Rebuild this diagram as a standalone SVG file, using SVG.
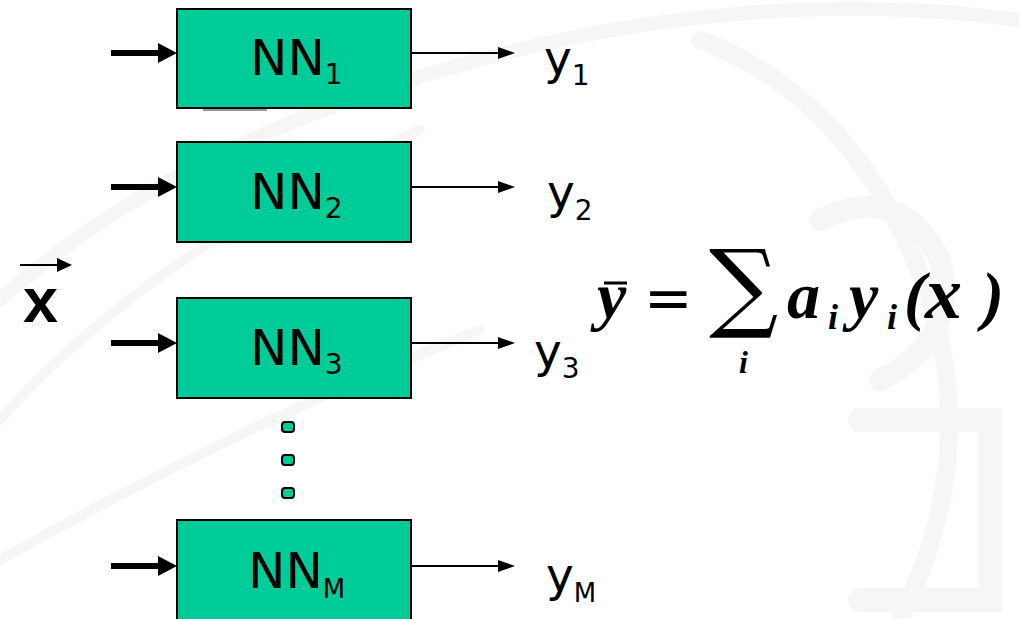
<svg xmlns="http://www.w3.org/2000/svg" width="1019" height="619" viewBox="0 0 1019 619">
<defs>
<style>
.box{fill:#00CC99;stroke:#000;stroke-width:2}
.in{stroke:#000;stroke-width:6;fill:none}
.out{stroke:#000;stroke-width:2;fill:none}
.lbl{font-family:"DejaVu Sans",sans-serif;font-size:50px;fill:#000}
.ylbl{font-family:"DejaVu Sans",sans-serif;font-size:47px;fill:#000}
.sub{font-size:28px}
.subm{font-size:26px}
.eq{font-family:"Liberation Serif","DejaVu Serif",serif;font-weight:bold;font-style:italic;fill:#000}
.wm{fill:none;stroke:#f8f6f4;stroke-linecap:round}
.dot{fill:#00CC99;stroke:#000;stroke-width:2}
</style>
</defs>
<rect width="1019" height="619" fill="#fff"/>
<g id="watermark">
<path class="wm" stroke-width="14" d="M0 300 Q 200 120 560 40 Q 800 -10 1019 20"/>
<path class="wm" stroke-width="10" d="M0 420 Q 150 250 420 130"/>
<path class="wm" stroke-width="18" d="M700 40 Q 860 100 930 300 Q 980 460 900 619"/>
<path class="wm" stroke-width="22" d="M820 220 Q 900 180 940 260 Q 960 340 880 380"/>
<path class="wm" stroke-width="24" d="M860 420 L 990 420 L 990 600 L 860 600"/>
<path class="wm" stroke-width="10" d="M0 560 Q 250 420 480 330"/>
</g>
<g id="connectors">
<g id="inputs" fill="#000">
<path class="in" d="M111 53 H160"/><polygon points="158,43 177,53 158,63"/>
<path class="in" d="M111 187 H160"/><polygon points="158,177 177,187 158,197"/>
<path class="in" d="M111 343 H160"/><polygon points="158,333 177,343 158,353"/>
<path class="in" d="M111 566 H160"/><polygon points="158,556 177,566 158,576"/>
</g>
<g id="outputs" fill="#000">
<path class="out" d="M411 53 H500"/><polygon points="498,47 515,53 498,59"/>
<path class="out" d="M411 187 H500"/><polygon points="498,181 515,187 498,193"/>
<path class="out" d="M411 343 H500"/><polygon points="498,337 515,343 498,349"/>
<path class="out" d="M411 566 H500"/><polygon points="498,560 515,566 498,572"/>
</g>
<g id="x-vector-arrow" fill="#000">
<path d="M20 265 H60" stroke="#000" stroke-width="2"/><polygon points="57,258 72,265 57,272"/>
</g>
</g>
<g id="nn1">
<rect class="box" x="177" y="9" width="234" height="99"/>
<line x1="203" y1="110" x2="267" y2="110" stroke="#999" stroke-width="2"/>
<text class="lbl" x="250" y="75">NN<tspan class="sub" dy="9">1</tspan></text>
</g>
<g id="nn2">
<rect class="box" x="177" y="142" width="234" height="100"/>
<text class="lbl" x="250" y="209">NN<tspan class="sub" dy="9">2</tspan></text>
</g>
<g id="nn3">
<rect class="box" x="177" y="298" width="234" height="100"/>
<text class="lbl" x="250" y="365">NN<tspan class="sub" dy="9">3</tspan></text>
</g>
<g id="dots">
<rect class="dot" x="282" y="422" width="12" height="10" rx="3"/>
<rect class="dot" x="282" y="455" width="12" height="10" rx="3"/>
<rect class="dot" x="282" y="488" width="12" height="10" rx="3"/>
</g>
<g id="nnM">
<rect class="box" x="177" y="520" width="234" height="110"/>
<text class="lbl" x="248" y="588">NN<tspan class="subm" dy="10">M</tspan></text>
</g>
<g id="outputs-labels">
<text class="ylbl" x="544" y="74">y<tspan class="sub" dy="11">1</tspan></text>
<text class="ylbl" x="547" y="208">y<tspan class="sub" dy="12">2</tspan></text>
<text class="ylbl" x="534" y="367">y<tspan class="sub" dy="11">3</tspan></text>
<text class="ylbl" x="546" y="591">y<tspan class="subm" dy="11">M</tspan></text>
</g>
<g id="x-vector">
<text x="23" y="322" font-family="Liberation Sans,sans-serif" font-weight="bold" font-size="63">x</text>
</g>
<g id="equation">
<line x1="604" y1="283" x2="627" y2="283" stroke="#000" stroke-width="3"/>
<text class="eq" font-size="66" x="597" y="318">y</text>
<text font-family="DejaVu Sans,sans-serif" font-size="58" x="644" y="318">=</text>
<text font-family="DejaVu Serif,serif" font-size="97" x="709" y="319">∑</text>
<text class="eq" font-size="32" x="739" y="373">i</text>
<text class="eq" font-size="66" x="787" y="318">a</text>
<text class="eq" font-size="36" x="828" y="329">i</text>
<text class="eq" font-size="66" x="849" y="318">y</text>
<text class="eq" font-size="36" x="887" y="329">i</text>
<text class="eq" font-size="66" x="904" y="318">(</text>
<text class="eq" font-size="74" x="925" y="318">x</text>
<text class="eq" font-size="66" x="982" y="318">)</text>
</g>
</svg>
